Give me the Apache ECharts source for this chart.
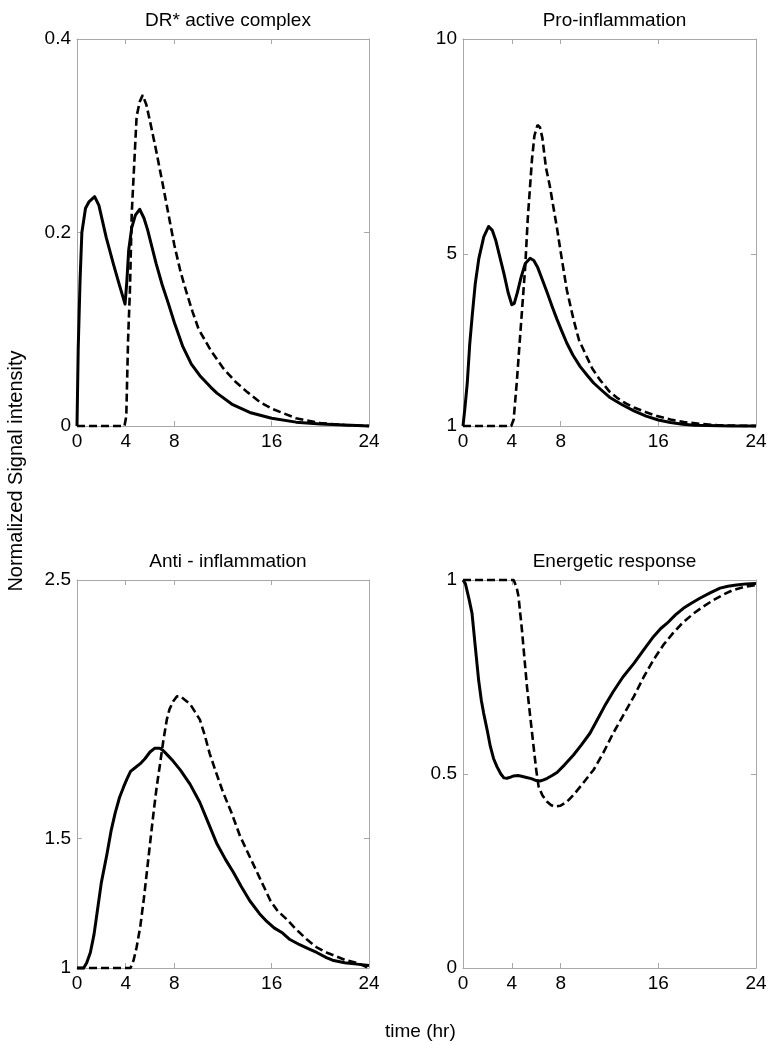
<!DOCTYPE html>
<html>
<head>
<meta charset="utf-8">
<script src="https://cdn.jsdelivr.net/npm/echarts@6/dist/echarts.min.js"></script>
<style>
html,body{margin:0;padding:0;background:#fff;}
#chart{width:775px;height:1050px;}
</style>
</head>
<body>
<div id="chart"></div>
<script>
// ---------- DATA ----------
const panelTitles = ['DR* active complex', 'Pro-inflammation', 'Anti - inflammation', 'Energetic response'];
const xTicks = [0, 4, 8, 16, 24];
const yTicksDR = [0, 0.2, 0.4];
const yTicksPro = [1, 5, 10];
const yTicksAnti = [1, 1.5, 2.5];
const yTicksEnergy = [0, 0.5, 1];
const xAxisTitle = 'time (hr)';
const yAxisTitle = 'Normalized Signal intensity';

// [time (hr), value]
const drSolid = [[0,0],[0.1,0.08],[0.25,0.15],[0.4,0.2],[0.7,0.225],[1.0,0.232],[1.45,0.237],[1.8,0.228],[2.4,0.195],[3.0,0.167],[3.5,0.145],[3.95,0.126],[4.1,0.15],[4.25,0.182],[4.5,0.205],[4.8,0.218],[5.15,0.224],[5.5,0.215],[5.8,0.203],[6.5,0.168],[7.0,0.146],[7.5,0.127],[8,0.107],[8.7,0.082],[9.4,0.064],[10.1,0.052],[11,0.04],[11.5,0.034],[12.8,0.022],[14.2,0.014],[16,0.008],[18,0.004],[20,0.002],[22,0.001],[24,0]];
const drDashed = [[0,0],[3.9,0],[4.05,0.01],[4.2,0.09],[4.35,0.14],[4.5,0.22],[4.7,0.27],[4.9,0.32],[5.15,0.335],[5.4,0.342],[5.7,0.332],[6.0,0.315],[6.5,0.285],[7.0,0.253],[7.5,0.22],[8.0,0.187],[8.5,0.16],[9.0,0.138],[9.5,0.118],[10,0.1],[11,0.078],[12,0.06],[13,0.046],[14,0.035],[15,0.025],[16,0.018],[18,0.008],[20,0.003],[22,0.001],[24,0]];

const proSolid = [[0,1],[0.15,1.4],[0.35,2.0],[0.55,2.9],[0.75,3.55],[1.0,4.3],[1.3,4.9],[1.7,5.4],[2.1,5.64],[2.4,5.55],[2.7,5.3],[3.0,4.95],[3.35,4.55],[3.7,4.1],[4.0,3.82],[4.2,3.85],[4.45,4.1],[4.75,4.45],[5.1,4.78],[5.5,4.9],[5.8,4.85],[6.1,4.7],[6.5,4.4],[6.9,4.1],[7.3,3.78],[7.7,3.48],[8.1,3.2],[8.5,2.93],[9.0,2.65],[9.6,2.38],[10.2,2.17],[10.7,2.0],[11.4,1.82],[12.0,1.67],[13,1.5],[14,1.35],[15,1.23],[16,1.14],[17,1.08],[18,1.04],[19,1.02],[20,1.01],[22,1],[24,1]];
const proDashed = [[0,1],[3.95,1],[4.15,1.15],[4.4,2.0],[4.7,3.17],[5.1,4.72],[5.3,5.8],[5.5,6.6],[5.65,7.2],[5.85,7.75],[6.1,8.0],[6.3,7.95],[6.5,7.7],[6.8,7.0],[7.1,6.6],[7.4,6.1],[7.7,5.6],[8.0,5.05],[8.5,4.17],[9.05,3.48],[9.5,3.0],[10.1,2.63],[10.6,2.33],[11.2,2.08],[12,1.8],[12.6,1.66],[13.3,1.53],[14,1.43],[15,1.32],[15.9,1.23],[17,1.15],[18.1,1.09],[19.5,1.05],[20.8,1.02],[22,1.01],[24,1]];

const antiSolid = [[0,1],[0.55,1.0],[0.8,1.02],[1.1,1.06],[1.4,1.13],[1.64,1.21],[2.0,1.33],[2.46,1.44],[2.8,1.53],[3.14,1.6],[3.5,1.66],[3.83,1.70],[4.1,1.73],[4.4,1.76],[4.8,1.775],[5.2,1.79],[5.6,1.81],[6.0,1.835],[6.4,1.85],[6.8,1.85],[7.1,1.84],[7.5,1.82],[7.9,1.80],[8.5,1.765],[9.3,1.71],[10.1,1.64],[10.8,1.56],[11.5,1.48],[12.2,1.42],[12.85,1.37],[13.5,1.315],[14.2,1.26],[15,1.21],[15.6,1.18],[16.2,1.155],[16.9,1.135],[17.5,1.11],[18.3,1.09],[19,1.075],[19.7,1.06],[20.5,1.04],[21,1.03],[22,1.02],[23,1.015],[24,1.01]];
const antiDashed = [[0,1],[4.4,1],[4.65,1.03],[4.9,1.08],[5.2,1.16],[5.5,1.27],[5.74,1.37],[6.0,1.48],[6.29,1.6],[6.55,1.7],[6.83,1.79],[7.1,1.88],[7.38,1.96],[7.6,2.0],[7.9,2.03],[8.2,2.05],[8.5,2.05],[8.9,2.035],[9.3,2.02],[9.7,1.99],[10.1,1.96],[10.5,1.9],[10.9,1.83],[11.4,1.76],[12.0,1.68],[12.7,1.6],[13.4,1.51],[14.1,1.44],[14.8,1.37],[15.4,1.31],[15.9,1.26],[16.5,1.22],[17.2,1.19],[18,1.15],[18.9,1.11],[19.7,1.08],[20.5,1.06],[21.3,1.045],[22.1,1.03],[23,1.02],[24,1.0]];

const energySolid = [[0,1],[0.2,0.99],[0.5,0.95],[0.74,0.914],[1.0,0.83],[1.28,0.742],[1.5,0.69],[1.69,0.657],[2.0,0.61],[2.24,0.571],[2.5,0.54],[2.78,0.519],[3.1,0.5],[3.35,0.49],[3.6,0.489],[3.9,0.492],[4.15,0.495],[4.5,0.496],[4.8,0.494],[5.2,0.491],[5.6,0.488],[6.0,0.483],[6.3,0.482],[6.6,0.485],[6.9,0.489],[7.3,0.496],[7.7,0.504],[8.3,0.523],[9.05,0.549],[9.7,0.575],[10.4,0.605],[11,0.64],[11.6,0.675],[12.3,0.712],[13.1,0.75],[14,0.785],[14.8,0.82],[15.6,0.854],[16.2,0.875],[16.7,0.888],[17.4,0.91],[18.05,0.927],[18.7,0.94],[19.4,0.953],[20.2,0.966],[21.05,0.979],[21.7,0.984],[22.4,0.987],[23.2,0.99],[24,0.991]];
const energyDashed = [[0,1],[4.15,1],[4.4,0.98],[4.55,0.957],[4.7,0.91],[4.83,0.871],[5.0,0.81],[5.24,0.725],[5.5,0.65],[5.78,0.571],[6.0,0.51],[6.19,0.468],[6.5,0.445],[6.87,0.429],[7.2,0.42],[7.5,0.416],[7.96,0.418],[8.5,0.428],[9.05,0.446],[9.8,0.475],[10.7,0.511],[11.5,0.555],[12.3,0.605],[13.1,0.65],[14,0.7],[14.8,0.75],[15.6,0.794],[16.4,0.832],[17.2,0.863],[18,0.89],[18.9,0.914],[19.7,0.932],[20.5,0.948],[21.3,0.962],[22.1,0.974],[23,0.982],[24,0.987]];

// ---------- LAYOUT / STYLE ----------
const FONT = '"Liberation Sans", Arial, sans-serif';
const FS = 19;
const AXIS_GRAY = '#a8a8a8';
const grids = [
  {left: 77, top: 39, width: 292, height: 387},
  {left: 463, top: 39, width: 293, height: 387},
  {left: 77, top: 580, width: 292, height: 388},
  {left: 463, top: 580, width: 293, height: 388}
];
const panels = [
  {yTicks: yTicksDR, solid: drSolid, dashed: drDashed},
  {yTicks: yTicksPro, solid: proSolid, dashed: proDashed},
  {yTicks: yTicksAnti, solid: antiSolid, dashed: antiDashed},
  {yTicks: yTicksEnergy, solid: energySolid, dashed: energyDashed}
];

const xAxes = [], yAxes = [], series = [], titles = [];
panels.forEach((p, i) => {
  const yMin = p.yTicks[0], yMax = p.yTicks[p.yTicks.length - 1];
  const tickStyle = {inside: true, length: 5, lineStyle: {color: AXIS_GRAY, width: 1}};
  xAxes.push({
    gridIndex: i, type: 'value', min: 0, max: 24, position: 'bottom',
    axisLine: {show: true, onZero: false, lineStyle: {color: AXIS_GRAY, width: 1}},
    axisTick: Object.assign({customValues: xTicks}, tickStyle),
    axisLabel: {customValues: xTicks, color: '#000', fontSize: FS, fontFamily: FONT, margin: 6},
    splitLine: {show: false}
  });
  xAxes.push({
    gridIndex: i, type: 'value', min: 0, max: 24, position: 'top',
    axisLine: {show: true, onZero: false, lineStyle: {color: AXIS_GRAY, width: 1}},
    axisTick: Object.assign({customValues: xTicks}, tickStyle),
    axisLabel: {show: false},
    splitLine: {show: false}
  });
  yAxes.push({
    gridIndex: i, type: 'value', min: yMin, max: yMax, position: 'left',
    axisLine: {show: true, onZero: false, lineStyle: {color: AXIS_GRAY, width: 1}},
    axisTick: Object.assign({customValues: p.yTicks}, tickStyle),
    axisLabel: {customValues: p.yTicks, color: '#000', fontSize: FS, fontFamily: FONT, margin: 6},
    splitLine: {show: false}
  });
  yAxes.push({
    gridIndex: i, type: 'value', min: yMin, max: yMax, position: 'right',
    axisLine: {show: true, onZero: false, lineStyle: {color: AXIS_GRAY, width: 1}},
    axisTick: Object.assign({customValues: p.yTicks}, tickStyle),
    axisLabel: {show: false},
    splitLine: {show: false}
  });
  const common = {type: 'line', xAxisIndex: 2 * i, yAxisIndex: 2 * i, showSymbol: false, symbol: 'none', clip: false, z: 5, silent: true};
  series.push(Object.assign({}, common, {data: p.solid, lineStyle: {color: '#000', width: 3, type: 'solid', join: 'round'}}));
  series.push(Object.assign({}, common, {data: p.dashed, lineStyle: {color: '#000', width: 2.6, type: [8, 4]}}));
  const g = grids[i];
  titles.push({
    text: panelTitles[i], left: g.left + g.width / 2, top: g.top - 33, textAlign: 'center',
    textStyle: {fontSize: FS, fontWeight: 'normal', color: '#000', fontFamily: FONT}
  });
});

const chart = echarts.init(document.getElementById('chart'), null, {renderer: 'canvas'});
chart.setOption({
  animation: false,
  backgroundColor: '#fff',
  title: titles,
  grid: grids,
  xAxis: xAxes,
  yAxis: yAxes,
  series: series,
  graphic: [
    {type: 'text', left: 385, top: 1022, style: {text: xAxisTitle, font: FS + 'px ' + FONT, fill: '#000'}},
    {type: 'text', x: 16, y: 471, rotation: Math.PI / 2,
     style: {text: yAxisTitle, font: '20px ' + FONT, fill: '#000', align: 'center', verticalAlign: 'middle'}}
  ]
});
</script>
</body>
</html>
